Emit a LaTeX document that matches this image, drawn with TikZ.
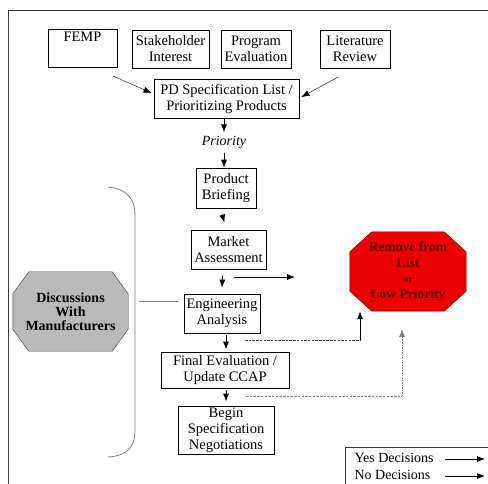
\documentclass[tikz,border=0pt]{standalone}
\usepackage{fontspec}
\setmainfont{Liberation Serif}
\usepackage{tikz}
\usetikzlibrary{arrows.meta,backgrounds}

\definecolor{stopred}{RGB}{238,0,0}
\definecolor{stoptext}{RGB}{80,0,0}
\definecolor{discgray}{RGB}{185,185,185}
\definecolor{framegray}{RGB}{60,60,60}

% octagon drawn round a node: name, corner x, corner y, options
\newcommand{\octround}[4]{%
  \draw[#4] ([xshift=#2]#1.north west) -- ([xshift=-#2]#1.north east)
    -- ([yshift=-#3]#1.north east) -- ([yshift=#3]#1.south east)
    -- ([xshift=-#2]#1.south east) -- ([xshift=#2]#1.south west)
    -- ([yshift=#3]#1.south west) -- ([yshift=-#3]#1.north west) -- cycle;}

\tikzset{
  stepbox/.style={draw,thick,align=center,inner sep=1pt,
    font=\fontsize{14.5}{16}\selectfont},
  flow/.style={-{Latex[length=8pt,width=6pt]},thick},
  nodec/.style={dash pattern=on 2.5pt off 1.2pt,thick,gray},
  octa/.style={align=center,inner sep=0pt},
}

\begin{document}
\begin{tikzpicture}[x=1pt,y=-1pt]
\useasboundingbox (0,0) rectangle (488,484);
\draw[framegray,thick] (8,10) rectangle (500,500);

% sources
\node[stepbox,minimum width=69,minimum height=38] (femp) at (82.5,48) {FEMP\\[6pt]\mbox{}};
\node[stepbox,minimum width=77,minimum height=38] (stake) at (170.5,49) {Stakeholder\\Interest};
\node[stepbox,minimum width=70,minimum height=38] (prog) at (256,49) {Program\\Evaluation};
\node[stepbox,minimum width=70,minimum height=38] (lit) at (355,49) {Literature\\Review};

\node[stepbox,minimum width=145,minimum height=39] (pd) at (226.5,98.5) {PD Specification List /\\Prioritizing Products};
\coordinate (femp out) at (113,76);
\coordinate (lit out) at (338,77);
\draw[flow,thin] (femp out) -- ([xshift=-2]pd.west |- 0,93);
\draw[flow,thin] (lit out) -- ([xshift=2]pd.east |- 0,97);

\node[font=\fontsize{14}{15}\selectfont\itshape] (prio) at (224,142) {Priority};
\draw[flow] (pd.south -| prio) -- ++(0,14);
\draw[flow] ([yshift=-1]prio.south) -- ++(0,15);

% main flow
\node[stepbox,minimum width=60,minimum height=40] (prod) at (226,188) {Product\\Briefing};
\node[stepbox,minimum width=75,minimum height=39] (market) at (228.5,249.5) {Market\\Assessment};
\node[stepbox,minimum width=76,minimum height=39] (eng) at (222,313.5) {Engineering\\Analysis};
\node[stepbox,minimum width=128,minimum height=36] (final) at (225,370) {Final Evaluation /\\Update CCAP};
\node[stepbox,minimum width=96,minimum height=48] (begin) at (226,430) {Begin\\Specification\\Negotiations};

\draw[flow] ([xshift=-4,yshift=-6]prod.south) -- ([xshift=-4,yshift=7]market.north);
\draw[flow] ([xshift=-6,yshift=-6]market.south) -- ([xshift=0,yshift=6]eng.north);
\draw[flow] ([xshift=4,yshift=-2]eng.south) -- ([xshift=1,yshift=2]final.north);
\draw[flow] ([xshift=1,yshift=-2]final.south) -- ([yshift=4]begin.north);

% stop sign
\node[octa,text=stoptext,minimum width=116,minimum height=79,
  font=\fontsize{13.5}{15.5}\selectfont\bfseries] (remove) at (408,271.5)
  {Remove from\\List\\{\fontsize{10}{10}\selectfont or}\\Low Priority};

\coordinate (yes end) at (295,277);
\draw[flow] (234,277) -- (yes end);

\coordinate (eng out) at (245,340);
\coordinate (eng turn) at (360,340);
\draw[nodec,darkgray] (eng out) -- (eng turn);
\draw[flow] (eng turn) -- (eng turn |- remove.south);

\coordinate (final out) at (246,396);
\coordinate (final turn) at (402,396);
\coordinate (final end) at (402,329);
\draw[nodec] (final out) -- (final turn);
\draw[nodec,-{Latex[length=8pt,width=6pt]},dash pattern=on 1.5pt off 1pt] (final turn) -- (final end);

% manufacturers
\node[octa,minimum width=115,minimum height=79,
  font=\fontsize{14}{14}\selectfont\bfseries] (disc) at (70.5,311.5)
  {Discussions\\With\\Manufacturers};

\begin{pgfonlayer}{background}
\octround{remove}{22}{20}{fill=stopred,draw=stoptext}
\octround{disc}{16}{22}{fill=discgray,draw=framegray}
\end{pgfonlayer}

\coordinate (brace top) at (108,187);
\coordinate (brace bot) at (108,457);
\draw[gray,thick] (brace top) .. controls (128,189) and (135,200) .. (135,215)
  -- (135,430) .. controls (135,448) and (126,456) .. (brace bot);
\draw[gray,thick] (139,301) -- ([xshift=-6]eng.west |- 0,301);

% legend
\draw[framegray,thick] (345,447) rectangle (500,500);
\node[anchor=west,font=\fontsize{14}{15}\selectfont] (yes) at (351,458) {Yes Decisions};
\node[anchor=west,font=\fontsize{14}{15}\selectfont] (no) at (351,475) {No Decisions};
\coordinate (yes a) at (445,459);
\coordinate (no a) at (445,476);
\draw[flow] (yes a) -- ++(40,0);
\draw[flow] (no a) -- ++(40,0);
\end{tikzpicture}
\end{document}
